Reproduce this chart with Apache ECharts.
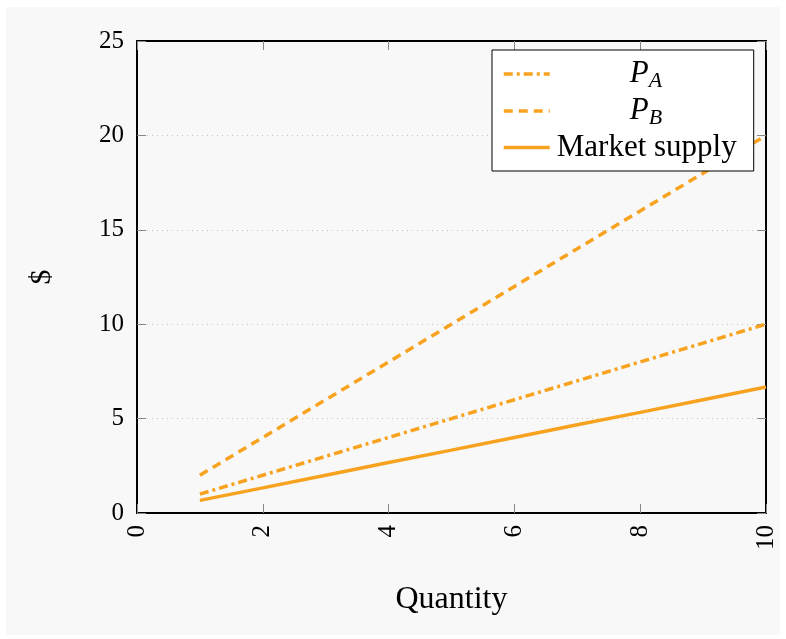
<!DOCTYPE html>
<html><head><meta charset="utf-8">
<script src="https://cdn.jsdelivr.net/npm/echarts@6/dist/echarts.min.js"></script>
<style>html,body{margin:0;padding:0;background:#fff}#c{width:786px;height:639px}</style>
</head><body><div id="c"></div>
<script>
const quantity = [1,2,3,4,5,6,7,8,9,10];
const pA = [1,2,3,4,5,6,7,8,9,10];
const pB = [2,4,6,8,10,12,14,16,18,20];
const marketSupply = [0.67,1.33,2,2.67,3.33,4,4.67,5.33,6,6.67];
const xTicks = [0,2,4,6,8,10];
const yTicks = [0,5,10,15,20,25];
const seriesNames = ['P_A','P_B','Market supply'];

const FONT = "'Liberation Serif','Times New Roman',serif";
const COLOR = '#f8a320';
const pair = (xs, ys) => xs.map((x,i)=>[x, ys[i]]);

const chart = echarts.init(document.getElementById('c'), null, {renderer:'canvas'});
const baseAxis = () => ({
  axisLine:{show:true, onZero:false, lineStyle:{color:'#000', width:2}},
  axisTick:{show:true, inside:true, length:9, lineStyle:{color:'#888', width:1}},
});
chart.setOption({
  backgroundColor:'#fff',
  animation:false,
  graphic:[{type:'rect', shape:{x:6,y:7,width:774,height:628}, style:{fill:'#f8f8f8'}, z:-10}],
  grid:{left:137, right:20, top:41, bottom:126},
  textStyle:{fontFamily:FONT},
  legend:{
    orient:'vertical', left:492, top:50,
    backgroundColor:'#fff', borderColor:'#000', borderWidth:1,
    padding:[6,17,6,10], itemGap:1, itemWidth:46, itemHeight:14,
    itemStyle:{opacity:0},
    lineStyle:{width:3.5},
    data:seriesNames,
    formatter: n => n==='P_A' ? '{i|P}{s|A}' : (n==='P_B' ? '{i|P}{s|B}' : '{t|' + n + '}'),
    textStyle:{fontFamily:FONT, fontSize:31, color:'#000', lineHeight:35,
      rich:{i:{fontStyle:'italic', fontSize:31, fontFamily:FONT, lineHeight:35, padding:[0,0,0,75]},
            s:{fontStyle:'italic', fontSize:22, fontFamily:FONT, padding:[14,0,0,0], lineHeight:35},
            t:{fontSize:31, fontFamily:FONT, lineHeight:35, padding:[0,0,0,2]}}}
  },
  xAxis:[
    Object.assign({type:'value', min:0, max:10, interval:2, position:'bottom',
      name:'Quantity', nameLocation:'middle', nameGap:71,
      nameTextStyle:{fontFamily:FONT, fontSize:32, color:'#000'},
      axisLabel:{rotate:90, fontFamily:FONT, fontSize:25, color:'#000', margin:12},
      splitLine:{show:false}}, baseAxis()),
    Object.assign({type:'value', min:0, max:10, interval:2, position:'top',
      axisLabel:{show:false}, splitLine:{show:false}}, baseAxis())
  ],
  yAxis:[
    Object.assign({type:'value', min:0, max:25, interval:5, position:'left',
      name:'$', nameLocation:'middle', nameGap:80, nameRotate:90,
      nameTextStyle:{fontFamily:FONT, fontSize:30, color:'#000'},
      axisLabel:{fontFamily:FONT, fontSize:25, color:'#000', margin:13},
      splitLine:{show:true, lineStyle:{type:[1,4], color:'#c4c4c4', width:1}}}, baseAxis()),
    Object.assign({type:'value', min:0, max:25, interval:5, position:'right',
      axisLabel:{show:false}, splitLine:{show:false}}, baseAxis())
  ],
  series:[
    {name:'P_A', type:'line', data:pair(quantity,pA), symbol:'none', color:COLOR,
      lineStyle:{color:COLOR, width:3.5, type:[9,4,3,4], cap:'butt'}},
    {name:'P_B', type:'line', data:pair(quantity,pB), symbol:'none', color:COLOR,
      lineStyle:{color:COLOR, width:3.5, type:[9,6], cap:'butt'}},
    {name:'Market supply', type:'line', data:pair(quantity,marketSupply), symbol:'none', color:COLOR,
      lineStyle:{color:COLOR, width:3.5, type:'solid'}}
  ]
});
</script></body></html>
